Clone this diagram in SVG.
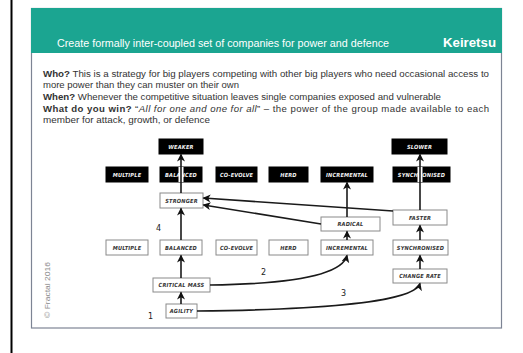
<svg xmlns="http://www.w3.org/2000/svg" width="523" height="353" viewBox="0 0 523 353">
<style>
.bx{fill:#fff;stroke:#8a8a8a;stroke-width:1}
.bk{fill:#000;stroke:#000;stroke-width:1}
.lb{font-family:"DejaVu Sans Condensed","DejaVu Sans",sans-serif;font-size:5.6px;font-weight:bold;font-style:italic;text-anchor:middle;fill:#333;letter-spacing:0.2px}
.lw{fill:#f4f4f4}
.body{font-family:"Liberation Sans",Arial,sans-serif;font-size:9.6px;fill:#333}
.num{font-family:"DejaVu Sans","Liberation Sans",sans-serif;font-size:8px;fill:#222}
.c{fill:none;stroke:#1a1a1a;stroke-width:1.6}
.halo{fill:none;stroke:#fff;stroke-width:5}
</style>
<defs>
<marker id="ah" markerUnits="userSpaceOnUse" markerWidth="9" markerHeight="9" refX="7" refY="4" orient="auto">
<path d="M0,0 L8,4 L0,8 L2.2,4 z" fill="#111"/>
</marker>
</defs>
<rect x="10.5" y="0" width="2" height="353" fill="#000"/>
<rect x="31.5" y="8.5" width="470" height="319.5" fill="#fff" stroke="#7d8494" stroke-width="1.2"/>
<rect x="31" y="8" width="471" height="45" fill="#1ba591"/>
<text x="57" y="46.5" font-family="Liberation Sans,Arial,sans-serif" font-size="10" fill="#fff" textLength="332" lengthAdjust="spacingAndGlyphs">Create formally inter-coupled set of companies for power and defence</text>
<text x="443" y="47" font-family="Liberation Sans,Arial,sans-serif" font-size="13" font-weight="bold" fill="#fff" textLength="53" lengthAdjust="spacingAndGlyphs">Keiretsu</text>
<text class="body" x="43" y="76.7" textLength="446" lengthAdjust="spacingAndGlyphs"><tspan font-weight="bold">Who?</tspan> This is a strategy for big players competing with other big players who need occasional access to</text>
<text class="body" x="43" y="88.3" textLength="196" lengthAdjust="spacingAndGlyphs">more power than they can muster on their own</text>
<text class="body" x="43" y="100" textLength="398" lengthAdjust="spacingAndGlyphs"><tspan font-weight="bold">When?</tspan> Whenever the competitive situation leaves single companies exposed and vulnerable</text>
<text class="body" x="43" y="111.6" textLength="446" lengthAdjust="spacing"><tspan font-weight="bold">What do you win?</tspan> “<tspan font-style="italic">All for one and one for all</tspan>” – the power of the group made available to each</text>
<text class="body" x="43" y="123.2" textLength="167" lengthAdjust="spacingAndGlyphs">member for attack, growth, or defence</text>
<text x="50" y="318" transform="rotate(-90 50 318)" font-family="Liberation Sans,Arial,sans-serif" font-size="8" fill="#8c8c8c" textLength="56" lengthAdjust="spacingAndGlyphs">© Fractal 2016</text>

<g id="weaker"><rect class="bk" x="159" y="139" width="44" height="15"/><text class="lb lw" x="181" y="148.8">WEAKER</text></g>
<g id="slower"><rect class="bk" x="392" y="139" width="55" height="15"/><text class="lb lw" x="419.5" y="148.8">SLOWER</text></g>

<g id="multiple-b"><rect class="bk" x="106" y="167" width="42" height="15"/><text class="lb lw" x="127" y="176.8">MULTIPLE</text></g>
<g id="balanced-b"><rect class="bk" x="160" y="167" width="42" height="15"/><text class="lb lw" x="181" y="176.8">BALANCED</text></g>
<g id="coevolve-b"><rect class="bk" x="216" y="167" width="41" height="15"/><text class="lb lw" x="236.5" y="176.8">CO-EVOLVE</text></g>
<g id="herd-b"><rect class="bk" x="269" y="167" width="39" height="15"/><text class="lb lw" x="288.5" y="176.8">HERD</text></g>
<g id="incremental-b"><rect class="bk" x="321" y="167" width="52" height="15"/><text class="lb lw" x="347" y="176.8">INCREMENTAL</text></g>
<g id="synchronised-b"><rect class="bk" x="393" y="167" width="57" height="15"/><text class="lb lw" x="421.5" y="176.8">SYNCHRONISED</text></g>

<g id="stronger"><rect class="bx" x="160" y="193" width="43" height="15"/><text class="lb" x="181.5" y="202.8">STRONGER</text></g>
<g id="faster"><rect class="bx" x="393" y="210" width="54" height="15"/><text class="lb" x="420" y="219.8">FASTER</text></g>
<g id="radical"><rect class="bx" x="321" y="217" width="59" height="14"/><text class="lb" x="350.5" y="226.3">RADICAL</text></g>

<g id="multiple-w"><rect class="bx" x="106" y="240" width="42" height="15"/><text class="lb" x="127" y="249.8">MULTIPLE</text></g>
<g id="balanced-w"><rect class="bx" x="160" y="240" width="42" height="15"/><text class="lb" x="181" y="249.8">BALANCED</text></g>
<g id="coevolve-w"><rect class="bx" x="216" y="240" width="41" height="15"/><text class="lb" x="236.5" y="249.8">CO-EVOLVE</text></g>
<g id="herd-w"><rect class="bx" x="269" y="240" width="39" height="15"/><text class="lb" x="288.5" y="249.8">HERD</text></g>
<g id="incremental-w"><rect class="bx" x="321" y="240" width="52" height="15"/><text class="lb" x="347" y="249.8">INCREMENTAL</text></g>
<g id="synchronised-w"><rect class="bx" x="393" y="240" width="55" height="15"/><text class="lb" x="420.5" y="249.8">SYNCHRONISED</text></g>

<g id="changerate"><rect class="bx" x="393" y="269" width="54" height="14"/><text class="lb" x="420" y="278.3">CHANGE RATE</text></g>
<g id="criticalmass"><rect class="bx" x="153" y="278" width="57" height="14"/><text class="lb" x="181.5" y="287.3">CRITICAL MASS</text></g>
<g id="agility"><rect class="bx" x="166" y="304" width="31" height="14"/><text class="lb" x="181.5" y="313.3">AGILITY</text></g>

<g id="connectors">
<line class="halo" x1="181" y1="167" x2="181" y2="182"/>
<line class="halo" x1="420" y1="167" x2="420" y2="182" stroke-width="6"/>
<line class="c" x1="181" y1="304" x2="181" y2="292.5" marker-end="url(#ah)"/>
<line class="c" x1="181" y1="278" x2="181" y2="255.5" marker-end="url(#ah)"/>
<line class="c" x1="181" y1="240" x2="181" y2="208.5" marker-end="url(#ah)"/>
<line class="c" x1="181" y1="193" x2="181" y2="154.5" marker-end="url(#ah)"/>
<line class="c" x1="420" y1="269" x2="420" y2="255.5" marker-end="url(#ah)"/>
<line class="c" x1="420" y1="240" x2="420" y2="225.5" marker-end="url(#ah)"/>
<line class="c" x1="420" y1="210" x2="420" y2="154.5" marker-end="url(#ah)"/>
<line class="c" x1="347" y1="240" x2="347" y2="231.5" marker-end="url(#ah)"/>
<line class="c" x1="347" y1="217" x2="347" y2="182.5" marker-end="url(#ah)"/>
<line class="c" x1="393" y1="211" x2="203.5" y2="198" marker-end="url(#ah)"/>
<line class="c" x1="321" y1="224" x2="203.5" y2="205" marker-end="url(#ah)"/>
<path class="c" d="M210,285 C285,284 342,276 347,255.5" marker-end="url(#ah)"/>
<path class="c" d="M197,311 C300,310 414,304 420,283.5" marker-end="url(#ah)"/>
</g>
<text class="num" x="156" y="231">4</text>
<text class="num" x="148" y="319">1</text>
<text class="num" x="261" y="275">2</text>
<text class="num" x="341" y="296">3</text>
</svg>
